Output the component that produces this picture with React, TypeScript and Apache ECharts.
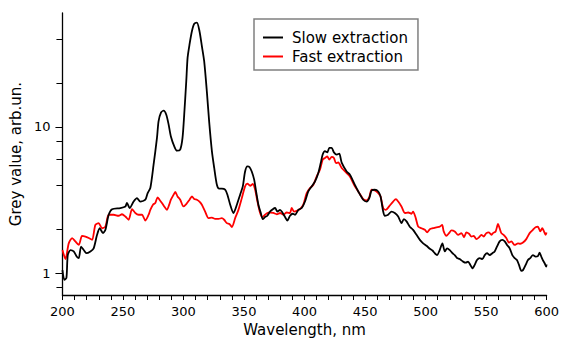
import React, { useEffect, useRef } from "react";
import * as echarts from "echarts";

const slowWavelength = [
  200, 201.6, 203.3, 204.4, 206.6, 209.3, 212.1, 213.5, 215.4, 217.6, 219.8, 223.1, 225.8, 228.6, 230.8, 233.5,
  235.5, 238.2, 241, 247.8, 252, 253.3, 255.5, 258.8, 261.6, 264.3, 268.5, 270.4, 272.6, 275.3, 278.1, 279.4,
  281.4, 283.6, 285.8, 287.7, 289.6, 292.4, 294.6, 297.3, 299.2, 300.6, 302.3, 303.4, 305, 307, 308.9, 311.1,
  313.2, 315.2, 317.1, 319.3, 321.2, 323.5, 325.4, 327.6, 329.5, 331.7, 334.4, 336.3, 338.6, 341.3, 344.1, 346.8,
  349, 350.9, 352.8, 354.5, 356.4, 358.4, 360, 361.9, 363.9, 365.5, 367.4, 369.3, 371.5, 373.8, 375.7, 377.6,
  379.8, 381.7, 383.9, 385.8, 388, 390.3, 392.2, 394.9, 397.7, 400.4, 403.1, 405.9, 408.7, 411.4, 413.4, 415,
  416.9, 418.8, 420.5, 422.4, 424.3, 426.6, 428.7, 430.7, 434.8, 437.5, 441.6, 444.4, 448.5, 451.3, 453.5, 455.4,
  458.1, 460.9, 462.8, 465, 466.4, 469.1, 471.9, 474.6, 477.4, 480.1, 482.1, 484.3, 487, 489.7, 492.5, 495.3,
  498, 500.8, 503.5, 505.7, 507.6, 509.5, 511.7, 513.9, 515.9, 517.8, 520, 522.2, 524.1, 526, 528.2, 531,
  533.2, 535.1, 537, 538.7, 540.6, 542.5, 544.7, 546.9, 548.9, 550.8, 553, 555.2, 557.1, 559, 561.2, 563.4,
  565.4, 567.3, 569.5, 571.7, 573.6, 575.5, 577.2, 579.1, 580.5, 582.7, 584.6, 586.5, 588.7, 590.9, 592.8, 594.2,
  595.6, 596.9, 598.4, 599.7, 600,
];
const slowValue = [
  1.05, 0.9, 0.93, 1.33, 1.44, 1.41, 1.29, 1.27, 1.52, 1.44, 1.37, 1.41, 1.48, 1.83, 2.03, 1.88,
  1.98, 2.51, 2.74, 2.79, 2.86, 3.02, 2.79, 3.09, 3.26, 3.09, 3.18, 3.53, 3.82, 5.52, 8.4, 10.9,
  12.5, 12.9, 12.1, 10.4, 8.6, 7.36, 6.88, 7.0, 8.4, 12.1, 20.5, 29.7, 36.6, 45.2, 50.7, 51.6,
  45.2, 35.6, 28.1, 17.5, 10.9, 6.8, 5.24, 4.02, 3.78, 3.78, 3.72, 3.44, 2.94, 2.58, 2.94, 3.44,
  3.92, 4.96, 5.37, 5.32, 4.96, 4.36, 3.62, 2.94, 2.58, 2.34, 2.42, 2.47, 2.64, 2.74, 2.79, 2.64,
  2.71, 2.6, 2.42, 2.29, 2.47, 2.55, 2.51, 2.71, 2.79, 3.09, 3.62, 3.92, 4.24, 4.84, 5.66, 6.47,
  6.82, 6.7, 7.18, 7.18, 6.7, 6.47, 6.56, 5.7, 4.96, 4.72, 4.02, 3.62, 3.18, 3.09, 3.26, 3.68,
  3.72, 3.62, 3.35, 2.64, 2.47, 2.51, 2.64, 2.58, 2.44, 2.2, 2.34, 2.26, 2.08, 1.98, 1.83, 1.69,
  1.6, 1.54, 1.47, 1.43, 1.37, 1.33, 1.44, 1.6, 1.41, 1.48, 1.44, 1.37, 1.33, 1.27, 1.25, 1.2,
  1.18, 1.2, 1.14, 1.08, 1.14, 1.23, 1.27, 1.25, 1.33, 1.37, 1.33, 1.37, 1.41, 1.52, 1.65, 1.69,
  1.65, 1.56, 1.48, 1.33, 1.27, 1.23, 1.14, 1.04, 1.05, 1.14, 1.23, 1.27, 1.33, 1.3, 1.31, 1.38,
  1.3, 1.23, 1.17, 1.11, 1.15,
];

const fastWavelength = [
  200, 202.5, 205.2, 208, 210.7, 213.5, 216.2, 219, 221.7, 224.5, 227.2, 229.9, 232.7, 235.5, 238.2, 242.3,
  246.4, 249.2, 252, 254.7, 257.5, 260.2, 262.9, 265.7, 268.5, 271.2, 272.6, 274.8, 276.7, 278.6, 280.2, 282.2,
  284.1, 286.3, 288.2, 289.6, 291.8, 293.2, 295.1, 297.3, 300, 302.3, 305, 307, 308.9, 311.1, 313.2, 315.2,
  317.9, 320.7, 323.5, 326.2, 329, 331.7, 333.6, 335.8, 338, 340, 342.7, 345.4, 348.2, 350.9, 352.8, 355.1,
  357.3, 359.2, 361.1, 363.3, 365.2, 367.4, 369.3, 371.5, 374.3, 377.1, 379.8, 382.5, 385.3, 388, 389.4, 391.3,
  393.6, 396.3, 399, 401.8, 404.5, 407.3, 410, 412.8, 415, 416.9, 418.8, 420.5, 422.4, 424.3, 426, 427.9,
  430.7, 434.8, 437.5, 441.6, 444.4, 448.5, 451.3, 453.5, 455.4, 458.1, 460.9, 462.8, 465, 467.2, 469.9, 473.2,
  475.5, 477.4, 480.1, 482.9, 485.7, 488.4, 489.7, 491.9, 493.9, 496.6, 499.4, 501.3, 503.5, 506.2, 509, 511.7,
  513.7, 515, 517.2, 519.4, 521.4, 524.1, 526.9, 529.6, 531.8, 533.7, 535.9, 537.9, 539.8, 542, 544.2, 546.1,
  548, 550.2, 552.4, 554.4, 555.7, 557.9, 559.9, 561.2, 562.6, 564.5, 566.7, 568.9, 570.9, 573.6, 576.4, 578.3,
  580.5, 583.2, 586, 588.7, 590.9, 592.8, 594.8, 596.4, 597.5, 599.2, 600,
];
const fastValue = [
  1.44, 1.25, 1.6, 1.74, 1.65, 1.56, 1.8, 1.78, 1.74, 1.69, 2.14, 2.2, 2.03, 2.08, 2.51, 2.51,
  2.47, 2.53, 2.44, 2.32, 2.74, 2.58, 2.51, 2.51, 2.29, 2.51, 2.71, 2.94, 3.02, 3.3, 3.18, 3.02,
  2.86, 2.71, 2.94, 3.18, 3.44, 3.59, 3.35, 3.18, 2.86, 2.97, 3.18, 3.35, 3.22, 3.18, 3.09, 2.94,
  2.64, 2.38, 2.4, 2.35, 2.35, 2.38, 2.32, 2.2, 2.17, 2.07, 2.38, 2.71, 3.26, 3.92, 4.09, 3.96,
  4.07, 3.72, 3.09, 2.58, 2.42, 2.51, 2.58, 2.6, 2.58, 2.53, 2.58, 2.51, 2.6, 2.58, 2.79, 2.64,
  2.67, 2.74, 2.94, 3.53, 3.82, 4.02, 4.58, 5.11, 5.98, 6.13, 6.28, 5.98, 6.23, 6.13, 5.66, 5.71,
  5.24, 4.84, 4.58, 3.92, 3.62, 3.21, 3.14, 3.31, 3.72, 3.68, 3.53, 3.35, 2.79, 2.71, 2.86, 3.09,
  3.21, 3.09, 2.86, 2.58, 2.6, 2.55, 2.64, 2.38, 2.08, 2.03, 1.98, 1.9, 2.0, 2.03, 2.06, 2.08,
  2.14, 1.93, 1.8, 1.88, 1.96, 1.93, 1.83, 1.88, 1.76, 1.9, 1.86, 1.78, 1.8, 1.71, 1.76, 1.83,
  1.78, 1.88, 1.9, 1.83, 1.88, 1.93, 2.17, 2.03, 1.88, 1.83, 1.74, 1.62, 1.65, 1.56, 1.6, 1.59,
  1.62, 1.71, 1.88, 1.98, 2.06, 2.08, 1.93, 2.03, 1.96, 1.83, 1.9,
];

const seriesNames = ["Slow extraction", "Fast extraction"];
const majorTicks = [1, 10];
const minorTicks = [0.8, 2, 4, 6, 8, 20, 40];
const yMinValue = 0.71;
const yMaxValue = 60;
const xMin = 200;
const xMax = 600;

const FONT = "'DejaVu Sans', Verdana, sans-serif";

export default function App() {
  const ref = useRef<HTMLDivElement>(null);
  useEffect(() => {
    if (!ref.current) return;
    const chart = echarts.init(ref.current, undefined, { renderer: "svg" });
    const lg = (v: number) => Math.log10(v);
    const yMin = lg(yMinValue);
    const yMax = lg(yMaxValue);
    const slowData = slowWavelength.map((w, i) => [w, lg(slowValue[i])]);
    const fastData = fastWavelength.map((w, i) => [w, lg(fastValue[i])]);
    chart.setOption({
      animation: false,
      backgroundColor: "#ffffff",
      grid: { left: 62, right: 15, top: 13, bottom: 48, containLabel: false },
      legend: {
        left: 254,
        top: 19,
        orient: "vertical",
        padding: [11, 10, 6, 9],
        itemGap: 4,
        itemWidth: 20,
        itemHeight: 2,
        icon: "rect",
        borderColor: "#808080",
        borderWidth: 1.5,
        backgroundColor: "#ffffff",
        data: seriesNames,
        textStyle: {
          fontFamily: FONT,
          fontSize: 15,
          lineHeight: 15,
          color: "#000",
          padding: [0, 0, 0, 4],
        },
      },
      xAxis: {
        type: "value",
        min: xMin,
        max: xMax,
        interval: 50,
        name: "Wavelength, nm",
        nameLocation: "middle",
        nameGap: 27,
        nameTextStyle: { fontFamily: FONT, fontSize: 15, color: "#000" },
        axisLine: { show: true, onZero: false, lineStyle: { color: "#000", width: 1.3 } },
        axisTick: { show: true, length: 5, lineStyle: { color: "#000", width: 1 } },
        minorTick: { show: true, splitNumber: 5, length: 5, lineStyle: { color: "#000", width: 1 } },
        splitLine: { show: false },
        minorSplitLine: { show: false },
        axisLabel: { fontFamily: FONT, fontSize: 13, color: "#000", margin: 10 },
      },
      yAxis: [
        {
          type: "value",
          min: yMin,
          max: yMax,
          position: "left",
          name: "Grey value, arb.un.",
          nameLocation: "middle",
          nameGap: 26,
          nameTextStyle: { fontFamily: FONT, fontSize: 15, color: "#000" },
          axisLine: { show: true, onZero: false, lineStyle: { color: "#000", width: 1.3 } },
          axisTick: {
            show: true,
            length: 7,
            customValues: majorTicks.map(lg),
            lineStyle: { color: "#000", width: 1 },
          },
          splitLine: { show: false },
          axisLabel: {
            fontFamily: FONT,
            fontSize: 13,
            color: "#000",
            margin: 12,
            customValues: majorTicks.map(lg),
            formatter: (v: number) => String(Math.round(Math.pow(10, v))),
          },
        },
        {
          type: "value",
          min: yMin,
          max: yMax,
          position: "left",
          axisLine: { show: false },
          axisTick: {
            show: true,
            length: 6,
            customValues: minorTicks.map(lg),
            lineStyle: { color: "#000", width: 1 },
          },
          axisLabel: { show: false },
          splitLine: { show: false },
        },
      ],
      series: [
        {
          name: seriesNames[0],
          type: "line",
          yAxisIndex: 0,
          data: slowData,
          showSymbol: false,
          smooth: 0.25,
          color: "#000000",
          lineStyle: { color: "#000000", width: 1.8 },
          z: 3,
        },
        {
          name: seriesNames[1],
          type: "line",
          yAxisIndex: 0,
          data: fastData,
          showSymbol: false,
          smooth: 0.25,
          color: "#ff0000",
          lineStyle: { color: "#ff0000", width: 1.8 },
          z: 2,
        },
      ],
    });
    return () => chart.dispose();
  }, []);
  return (
    <div
      ref={ref}
      style={{ position: "fixed", left: 0, top: 0, width: 562, height: 343, background: "#fff" }}
    />
  );
}
